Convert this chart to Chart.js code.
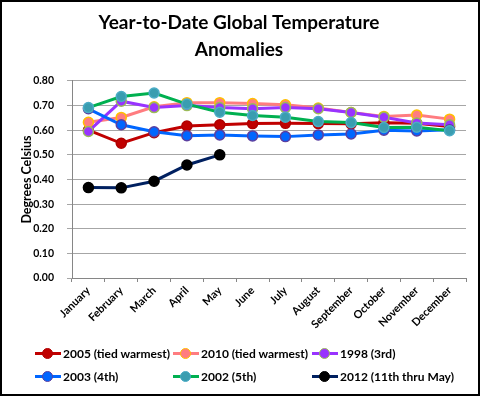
<!DOCTYPE html>
<html><head><meta charset="utf-8">
<script src="https://cdn.jsdelivr.net/npm/chart.js@4"></script>
<style>
html,body{margin:0;padding:0;background:#fff;}
#wrap{position:relative;width:480px;height:396px;overflow:hidden;}
#frame{position:absolute;left:0;top:0;width:480px;height:396px;box-sizing:border-box;border:2px solid #000;pointer-events:none;}
canvas{position:absolute;left:0;top:0;}
#legend{position:absolute;left:0;top:346px;width:480px;font-family:Lato,"Open Sans",sans-serif;font-weight:bold;font-size:12px;color:#000;}
.item{position:absolute;height:16px;line-height:16px;white-space:nowrap;}
.sw{position:absolute;left:0;top:6px;width:26px;height:3px;}
.dot{position:absolute;left:7px;top:-4px;width:9px;height:9px;border-radius:50%;border:1.5px solid;}
.lbl{position:absolute;left:28px;top:0;}
</style></head>
<body><div id="wrap"><canvas id="c" width="480" height="396"></canvas><div id="legend"></div><div id="frame"></div></div>
<script>
const months = ["January","February","March","April","May","June","July","August","September","October","November","December"];
const yTicks = [0,0.1,0.2,0.3,0.4,0.5,0.6,0.7,0.8];
const seriesNames = ["2005 (tied warmest)","2010 (tied warmest)","1998 (3rd)","2003 (4th)","2002 (5th)","2012 (11th thru May)"];
const y2005 = [0.60,0.547,0.59,0.617,0.622,0.627,0.628,0.627,0.626,0.63,0.628,0.615];
const y2010 = [0.632,0.652,0.695,0.712,0.712,0.708,0.703,0.69,0.672,0.656,0.662,0.645];
const y1998 = [0.595,0.718,0.692,0.70,0.692,0.687,0.692,0.687,0.672,0.653,0.629,0.622];
const y2003 = [0.687,0.622,0.594,0.578,0.581,0.577,0.574,0.581,0.585,0.60,0.597,0.602];
const y2002 = [0.692,0.737,0.751,0.706,0.673,0.66,0.653,0.635,0.631,0.611,0.612,0.598];
const y2012 = [0.367,0.366,0.393,0.459,0.50];
const lineColors = ["#C00000","#FF7C80","#9933FF","#0066FF","#00B050","#002060"];
const markerFill = ["#C00000","#FF7C80","#9933FF","#0066FF","#3A9DB0","#000000"];
const markerEdge = ["#B00000","#FFC000","#9BBB59","#5B3FA0","#4BACC6","#000000"];
const values = [y2005,y2010,y1998,y2003,y2002,y2012];

const datasets = values.map((v,i)=>({
  label: seriesNames[i],
  data: v,
  borderColor: lineColors[i],
  backgroundColor: markerFill[i],
  pointBackgroundColor: markerFill[i],
  pointBorderColor: markerEdge[i],
  pointBorderWidth: 1.5,
  pointRadius: 5,
  borderWidth: 3,
  tension: 0,
  order: 5 - i
}));

new Chart(document.getElementById('c'), {
  type: 'line',
  data: { labels: months, datasets },
  options: {
    responsive: false,
    animation: false,
    layout: { padding: { left: 6, right: 8, top: 0, bottom: 0 } },
    plugins: {
      legend: { display: false },
      tooltip: { enabled: false },
      title: {
        display: true,
        text: ["Year-to-Date Global Temperature","Anomalies"],
        font: { family: "Lato", weight: "bold", size: 19, lineHeight: 1.42 },
        color: "#000",
        padding: { top: 9, bottom: 18 }
      }
    },
    scales: {
      x: {
        offset: true,
        grid: { offset: true, drawOnChartArea: false, color: "#868686", tickLength: 4 },
        border: { color: "#868686" },
        ticks: { minRotation: 45, maxRotation: 45, color: "#000", font: { family: "Lato", weight: "bold", size: 11 }, padding: 2 },
        afterFit: s => { s.height = 118; }
      },
      y: {
        min: 0, max: 0.8,
        afterBuildTicks: s => { s.ticks = yTicks.map(v=>({value:v})); },
        grid: { color: "#A6A6A6", tickLength: 5 },
        border: { color: "#868686" },
        ticks: { color: "#000", font: { family: "Lato", weight: "bold", size: 10.5 }, padding: 13, callback: v => Number(v).toFixed(2) },
        title: { display: true, text: "Degrees Celsius", color: "#000", font: { family: "Lato", weight: "bold", size: 12.5 }, padding: { top: 13, bottom: 0 } },
        afterFit: s => { s.width = 66; }
      },
      yRight: {
        position: 'right',
        display: true,
        min: 0, max: 0.8,
        grid: { display: false, drawTicks: false },
        border: { display: false },
        ticks: { display: false },
        afterFit: s => { s.width = 6; }
      }
    }
  }
});

const leg = document.getElementById('legend');
const cols = [35,173,312];
seriesNames.forEach((n,i)=>{
  const it = document.createElement('div');
  it.className = 'item';
  it.style.left = cols[i%3] + 'px';
  it.style.top = (i<3?0:23) + 'px';
  it.innerHTML = '<span class="sw" style="background:'+lineColors[i]+'"><span class="dot" style="background:'+markerFill[i]+';border-color:'+markerEdge[i]+'"></span></span><span class="lbl">'+n+'</span>';
  leg.appendChild(it);
});
</script>
</body></html>
